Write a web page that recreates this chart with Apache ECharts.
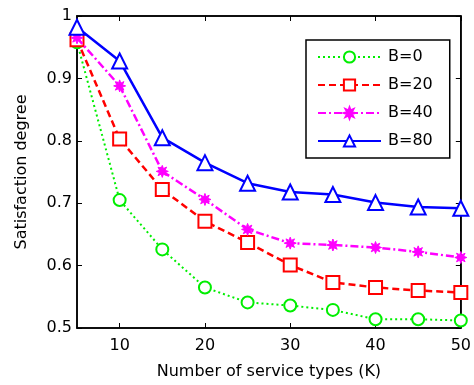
<!DOCTYPE html>
<html>
<head>
<meta charset="utf-8">
<script src="https://cdn.jsdelivr.net/npm/echarts@6/dist/echarts.min.js"></script>
<style>
html,body{margin:0;padding:0;background:#fff;}
#chart{width:474px;height:385px;}
</style>
</head>
<body>
<div id="chart"></div>
<script>
// Number of service types K
const kValues = [5, 10, 15, 20, 25, 30, 35, 40, 45, 50];
const xTicks = [10, 20, 30, 40, 50];
const yTicks = [0.5, 0.6, 0.7, 0.8, 0.9, 1];

// Satisfaction degree for each budget B
const b0  = [0.958, 0.705, 0.626, 0.565, 0.541, 0.536, 0.529, 0.514, 0.514, 0.512];
const b20 = [0.962, 0.803, 0.722, 0.671, 0.637, 0.601, 0.573, 0.565, 0.560, 0.557];
const b40 = [0.965, 0.888, 0.751, 0.706, 0.658, 0.636, 0.633, 0.629, 0.622, 0.613];
const b80 = [0.982, 0.928, 0.805, 0.765, 0.732, 0.718, 0.714, 0.701, 0.694, 0.692];

const seriesNames = ['B=0', 'B=20', 'B=40', 'B=80'];

const FONT = 'DejaVu Sans, sans-serif';
const starPath = 'path://M10 0 L11.9 5.4 L17.1 2.9 L14.6 8.1 L20 10 L14.6 11.9 L17.1 17.1 L11.9 14.6 L10 20 L8.1 14.6 L2.9 17.1 L5.4 11.9 L0 10 L5.4 8.1 L2.9 2.9 L8.1 5.4 Z';

function pairs(ys) { return kValues.map((k, i) => [k, ys[i]]); }

const chart = echarts.init(document.getElementById('chart'), null, {renderer: 'canvas'});

const tickStyle = {inside: true, length: 5, lineStyle: {color: '#000', width: 1}};

chart.setOption({
  animation: false,
  backgroundColor: '#fff',
  textStyle: {fontFamily: FONT},
  grid: {left: 77, top: 16, right: 10, bottom: 56, show: true, borderColor: '#000', borderWidth: 1.5, backgroundColor: 'transparent'},
  legend: {
    orient: 'vertical',
    left: 306, top: 40,
    padding: [9, 17, 9, 11],
    borderColor: '#000', borderWidth: 1.5,
    backgroundColor: '#fff',
    itemWidth: 63, itemHeight: 14, itemGap: 12,
    textStyle: {fontFamily: FONT, fontSize: 16, color: '#000', padding: [0, 0, 0, 2]},
    data: seriesNames
  },
  xAxis: [{
    type: 'value', min: 5, max: 50,
    name: 'Number of service types (K)', nameLocation: 'middle', nameGap: 36,
    nameTextStyle: {fontFamily: FONT, fontSize: 16, color: '#000'},
    axisLine: {show: true, onZero: false, lineStyle: {color: '#000', width: 1.5}},
    axisTick: Object.assign({customValues: xTicks}, tickStyle),
    axisLabel: {customValues: xTicks, fontFamily: FONT, fontSize: 16, color: '#000', margin: 10},
    splitLine: {show: false}
  }, {
    type: 'value', min: 5, max: 50, position: 'top',
    axisLine: {show: true, onZero: false, lineStyle: {color: '#000', width: 1.5}},
    axisTick: Object.assign({customValues: xTicks}, tickStyle),
    axisLabel: {show: false},
    splitLine: {show: false}
  }],
  yAxis: [{
    type: 'value', min: 0.5, max: 1, interval: 0.1,
    name: 'Satisfaction degree', nameLocation: 'middle', nameGap: 47,
    nameTextStyle: {fontFamily: FONT, fontSize: 16, color: '#000'},
    axisLine: {show: true, onZero: false, lineStyle: {color: '#000', width: 1.5}},
    axisTick: Object.assign({customValues: yTicks}, tickStyle),
    axisLabel: {customValues: yTicks, fontFamily: FONT, fontSize: 16, color: '#000', margin: 5,
      formatter: v => (Math.abs(v - 1) < 1e-9 ? '1' : v.toFixed(1))},
    splitLine: {show: false}
  }, {
    type: 'value', min: 0.5, max: 1, interval: 0.1, position: 'right',
    axisLine: {show: true, onZero: false, lineStyle: {color: '#000', width: 1.5}},
    axisTick: Object.assign({customValues: yTicks}, tickStyle),
    axisLabel: {show: false},
    splitLine: {show: false}
  }],
  series: [{
    name: seriesNames[0], type: 'line', data: pairs(b0),
    symbol: 'emptyCircle', symbolSize: 12,
    lineStyle: {color: '#00ee00', width: 2, type: [2, 3]},
    itemStyle: {color: '#00ee00', borderColor: '#00ee00', borderWidth: 2.5},
    z: 2
  }, {
    name: seriesNames[1], type: 'line', data: pairs(b20),
    symbol: 'emptyRect', symbolSize: 13,
    lineStyle: {color: '#ff0000', width: 2.5, type: [7, 4]},
    itemStyle: {color: '#ff0000', borderColor: '#ff0000', borderWidth: 2.5},
    z: 3
  }, {
    name: seriesNames[2], type: 'line', data: pairs(b40),
    symbol: starPath, symbolSize: 12,
    lineStyle: {color: '#ff00ff', width: 2.5, type: [8, 3, 2, 3]},
    itemStyle: {color: '#ff00ff', borderColor: '#ff00ff', borderWidth: 1},
    z: 4
  }, {
    name: seriesNames[3], type: 'line', data: pairs(b80),
    symbol: 'emptyTriangle', symbolSize: 15,
    lineStyle: {color: '#0000ff', width: 2.5, type: 'solid'},
    itemStyle: {color: '#0000ff', borderColor: '#0000ff', borderWidth: 2.5},
    z: 5
  }]
});
</script>
</body>
</html>
